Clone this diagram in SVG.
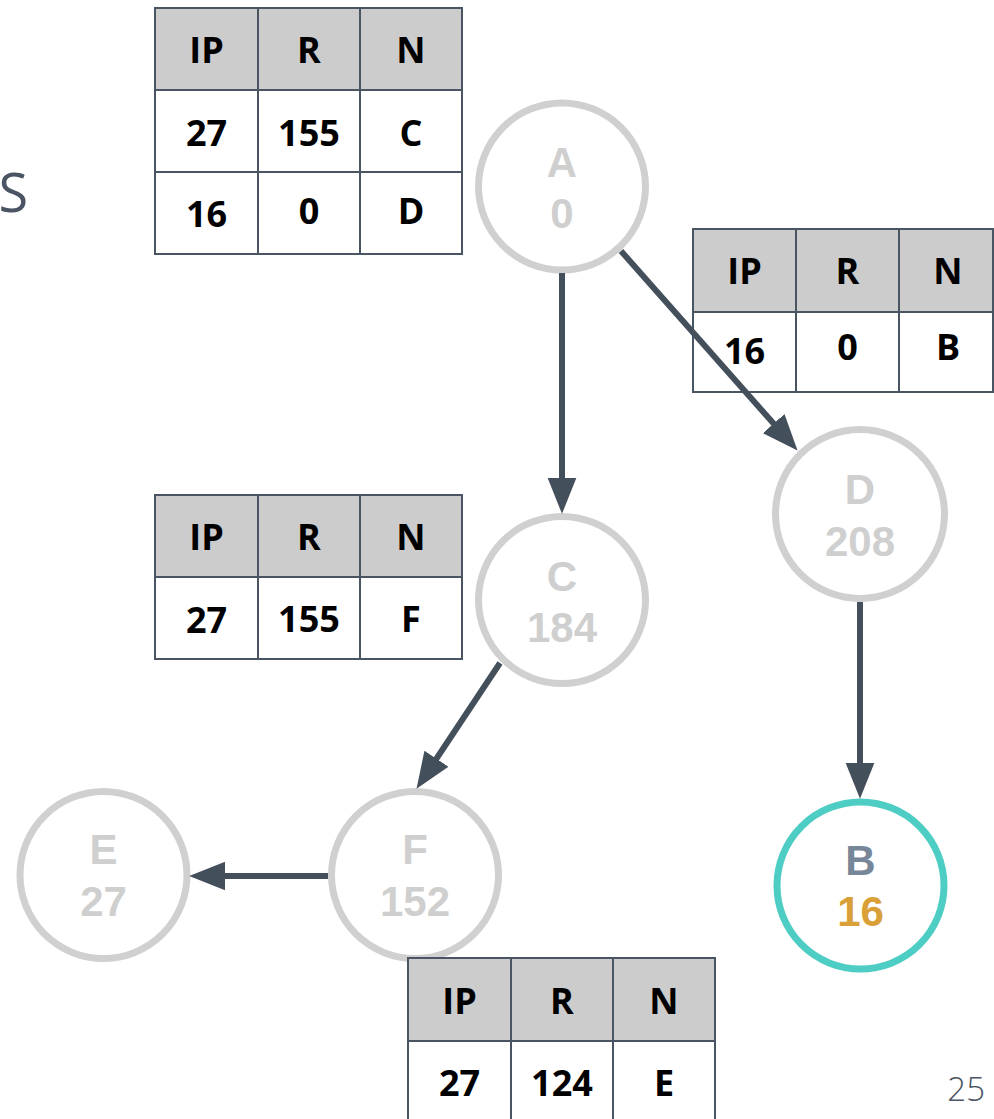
<svg xmlns="http://www.w3.org/2000/svg" width="994" height="1119" viewBox="0 0 994 1119">
  <style>
    .node circle { fill: #ffffff; stroke: #d0d0d0; stroke-width: 7; }
    .node text { font-family: "Liberation Sans", Arial, sans-serif; font-weight: 700; font-size: 42px; fill: #cfcfcf; text-anchor: middle; }
    .node.goal circle { stroke: #4ecdc4; }
    .node.goal .name { fill: #788699; }
    .node.goal .dist { fill: #d9a038; }
    .table rect { fill: #ffffff; stroke: #4a5563; stroke-width: 2; }
    .table rect.head { fill: #cccccc; }
    .table text { font-family: "Open Sans", "Liberation Sans", sans-serif; font-weight: 700; font-size: 36px; fill: #000000; text-anchor: middle; }
    .edges line { stroke: #444f5c; stroke-width: 6; marker-end: url(#arrow); }
    .caption { font-family: "Open Sans", "Liberation Sans", sans-serif; fill: #4a5463; }
  </style>
  <defs>
    <marker id="arrow" markerUnits="userSpaceOnUse" markerWidth="36" markerHeight="30" viewBox="0 0 35 28" refX="5" refY="14" orient="auto">
      <path d="M0,0 L35,14 L0,28 Z" fill="#444f5c"/>
    </marker>
  </defs>

  <rect width="994" height="1119" fill="#ffffff"/>

  <!-- heading fragment and page number -->
  <text class="caption" x="28" y="212" font-size="54" font-weight="400" text-anchor="end">S</text>
  <text class="caption" x="985" y="1101" font-size="33" font-weight="300" text-anchor="end">25</text>

  <!-- graph nodes -->
  <g id="node-a" class="node">
    <circle cx="562" cy="186.5" r="83.5"/>
    <text x="562" y="177">A</text>
    <text x="562" y="228">0</text>
  </g>
  <g id="node-c" class="node">
    <circle cx="562" cy="600" r="83.5"/>
    <text x="562" y="591">C</text>
    <text x="562" y="642">184</text>
  </g>
  <g id="node-d" class="node">
    <circle cx="860" cy="514" r="84.5"/>
    <text x="860" y="504">D</text>
    <text x="860" y="556">208</text>
  </g>
  <g id="node-f" class="node">
    <circle cx="415" cy="875" r="83.5"/>
    <text x="415" y="864">F</text>
    <text x="415" y="916">152</text>
  </g>
  <g id="node-e" class="node">
    <circle cx="103.5" cy="875" r="83.5"/>
    <text x="103.5" y="864">E</text>
    <text x="103.5" y="916">27</text>
  </g>
  <g id="node-b" class="node goal">
    <circle cx="860.5" cy="885.5" r="83.5"/>
    <text class="name" x="860.5" y="875">B</text>
    <text class="dist" x="860.5" y="926">16</text>
  </g>

  <!-- routing tables -->
  <g id="table-a" class="table">
    <rect class="head" x="155" y="8" width="103" height="82"/>
    <rect class="head" x="258" y="8" width="102" height="82"/>
    <rect class="head" x="360" y="8" width="102" height="82"/>
    <rect x="155" y="90" width="103" height="82"/>
    <rect x="258" y="90" width="102" height="82"/>
    <rect x="360" y="90" width="102" height="82"/>
    <rect x="155" y="172" width="103" height="82"/>
    <rect x="258" y="172" width="102" height="82"/>
    <rect x="360" y="172" width="102" height="82"/>
    <text x="206.5" y="63">IP</text><text x="309" y="63">R</text><text x="411" y="63">N</text>
    <text x="206.5" y="145.5">27</text><text x="309" y="145.5">155</text><text x="411" y="145.5">C</text>
    <text x="206.5" y="227">16</text><text x="309" y="224">0</text><text x="411" y="224">D</text>
  </g>

  <g id="table-d" class="table">
    <rect class="head" x="693" y="229" width="103" height="83"/>
    <rect class="head" x="796" y="229" width="103" height="83"/>
    <rect class="head" x="899" y="229" width="94" height="83"/>
    <rect x="693" y="312" width="103" height="80"/>
    <rect x="796" y="312" width="103" height="80"/>
    <rect x="899" y="312" width="94" height="80"/>
    <text x="744.5" y="284">IP</text><text x="847.5" y="284">R</text><text x="948" y="284">N</text>
    <text x="744.5" y="364">16</text><text x="847.5" y="360">0</text><text x="948" y="360">B</text>
  </g>

  <g id="table-c" class="table">
    <rect class="head" x="155" y="495" width="103" height="82"/>
    <rect class="head" x="258" y="495" width="102" height="82"/>
    <rect class="head" x="360" y="495" width="102" height="82"/>
    <rect x="155" y="577" width="103" height="82"/>
    <rect x="258" y="577" width="102" height="82"/>
    <rect x="360" y="577" width="102" height="82"/>
    <text x="206.5" y="550">IP</text><text x="309" y="550">R</text><text x="411" y="550">N</text>
    <text x="206.5" y="633">27</text><text x="309" y="632">155</text><text x="411" y="632">F</text>
  </g>

  <g id="table-f" class="table">
    <rect class="head" x="408" y="958" width="103" height="83"/>
    <rect class="head" x="511" y="958" width="102" height="83"/>
    <rect class="head" x="613" y="958" width="102" height="83"/>
    <rect x="408" y="1041" width="103" height="82"/>
    <rect x="511" y="1041" width="102" height="82"/>
    <rect x="613" y="1041" width="102" height="82"/>
    <text x="459.5" y="1014">IP</text><text x="562" y="1014">R</text><text x="664" y="1014">N</text>
    <text x="459.5" y="1096">27</text><text x="562" y="1096">124</text><text x="664" y="1096">E</text>
  </g>

  <!-- connectors, drawn last so they pass over the tables -->
  <g id="edges" class="edges">
    <line x1="562" y1="273" x2="562" y2="483"/>
    <line x1="621" y1="251" x2="777.1" y2="427.5"/>
    <line x1="860" y1="602" x2="860" y2="768"/>
    <line x1="500" y1="663" x2="433.6" y2="763"/>
    <line x1="328" y1="876" x2="220" y2="876"/>
  </g>
</svg>
